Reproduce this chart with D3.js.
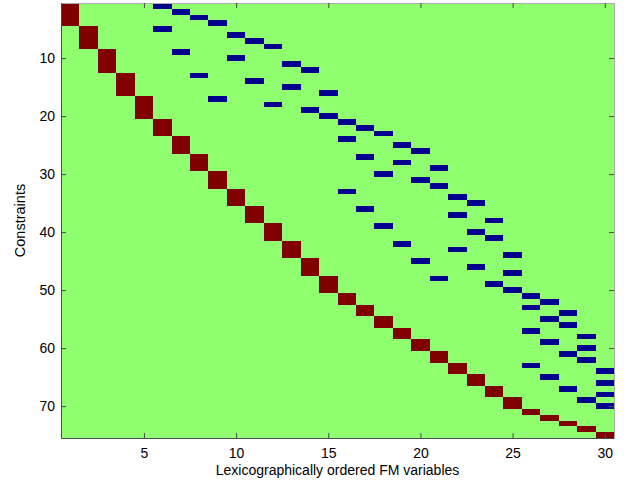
<!DOCTYPE html>
<html>
<head>
<meta charset="utf-8">
<script src="https://cdn.jsdelivr.net/npm/d3@7"></script>
<style>
  body { margin: 0; background: #fff; }
  text { font-family: "Liberation Sans", Arial, sans-serif; }
</style>
</head>
<body>
<div id="chart"></div>
<script>
// column holding +1 in each constraint row (rows 1..75)
const plusCol = [1,1,1,1, 2,2,2,2, 3,3,3,3, 4,4,4,4, 5,5,5,5,
  6,6,6, 7,7,7, 8,8,8, 9,9,9, 10,10,10, 11,11,11, 12,12,12, 13,13,13, 14,14,14, 15,15,15,
  16,16, 17,17, 18,18, 19,19, 20,20, 21,21, 22,22, 23,23, 24,24, 25,25,
  26, 27, 28, 29, 30];
// column holding -1 in each constraint row (null = none)
const minusCol = [6,7,8,9, 6,10,11,12, 7,10,13,14, 8,11,13,15, 9,12,14,15,
  16,17,18, 16,19,20, 17,19,21, 18,20,21, 16,22,23, 17,22,24, 18,23,24, 19,22,25, 20,23,25, 21,24,25,
  26,27, 26,28, 27,28, 26,29, 27,29, 28,29, 26,30, 27,30, 28,30, 29,30,
  null,null,null,null,null];
const xTicks = [5, 10, 15, 20, 25, 30];
const yTicks = [10, 20, 30, 40, 50, 60, 70];
const nCols = 30, nRows = plusCol.length;

const width = 624, height = 489;
const m = { left: 61, right: 614, top: 3, bottom: 438 };

const svg = d3.select("#chart").append("svg")
  .attr("width", width).attr("height", height);

const x = d3.scaleLinear().domain([0.5, nCols + 0.5]).range([m.left, m.right]);
const y = d3.scaleLinear().domain([0.5, nRows + 0.5]).range([m.top, m.bottom]);
const color = d3.scaleOrdinal().domain([-1, 0, 1]).range(["#00008f", "#8fff70", "#800000"]);

// background = zeros
svg.append("rect")
  .attr("x", m.left).attr("y", m.top)
  .attr("width", m.right - m.left).attr("height", m.bottom - m.top)
  .attr("fill", color(0));

const cells = [];
plusCol.forEach((c, i) => cells.push({ row: i + 1, col: c, v: 1 }));
minusCol.forEach((c, i) => { if (c != null) cells.push({ row: i + 1, col: c, v: -1 }); });

svg.append("g")
  .attr("shape-rendering", "crispEdges")
  .selectAll("rect")
  .data(cells)
  .enter().append("rect")
  .attr("x", d => x(d.col - 0.5))
  .attr("y", d => y(d.row - 0.5))
  .attr("width", d => x(d.col + 0.5) - x(d.col - 0.5))
  .attr("height", d => y(d.row + 0.5) - y(d.row - 0.5))
  .attr("fill", d => color(d.v));

// axes, MATLAB style (ticks inside, box around)
const axisColor = "#4a4a4a";
const gx = svg.append("g").attr("transform", `translate(0,${m.bottom})`)
  .call(d3.axisBottom(x).tickValues(xTicks).tickSizeInner(-5).tickSizeOuter(0).tickPadding(10));
const gxTop = svg.append("g").attr("transform", `translate(0,${m.top})`)
  .call(d3.axisTop(x).tickValues(xTicks).tickSizeInner(-5).tickSizeOuter(0).tickFormat(""));
const gy = svg.append("g").attr("transform", `translate(${m.left},0)`)
  .call(d3.axisLeft(y).tickValues(yTicks).tickSizeInner(-5).tickSizeOuter(0).tickPadding(6));
const gyRight = svg.append("g").attr("transform", `translate(${m.right},0)`)
  .call(d3.axisRight(y).tickValues(yTicks).tickSizeInner(-5).tickSizeOuter(0).tickFormat(""));

[gx, gxTop, gy, gyRight].forEach(g => {
  g.selectAll("path, line").attr("stroke", axisColor);
  g.selectAll("text").attr("fill", "#000").style("font-size", "14px");
});
gxTop.select("path").attr("stroke", "#aaa");
gyRight.select("path").attr("stroke", "#aaa");

svg.append("text")
  .attr("x", (m.left + m.right) / 2).attr("y", 475)
  .attr("text-anchor", "middle")
  .style("font-size", "14px")
  .text("Lexicographically ordered FM variables");

svg.append("text")
  .attr("transform", `translate(25,${(m.top + m.bottom) / 2}) rotate(-90)`)
  .attr("text-anchor", "middle")
  .style("font-size", "14.5px")
  .text("Constraints");
</script>
</body>
</html>
